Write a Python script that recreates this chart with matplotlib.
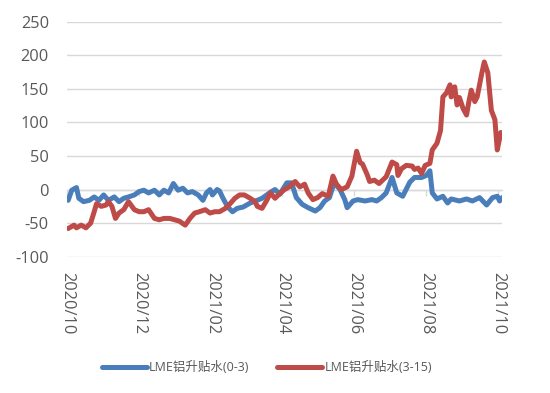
import matplotlib
matplotlib.use("Agg")
import matplotlib.pyplot as plt
import matplotlib.dates as mdates
import pandas as pd

plt.rcParams["axes.unicode_minus"] = False

blue_dates = ["2020-10-02","2020-10-05","2020-10-09","2020-10-11","2020-10-15","2020-10-20","2020-10-24","2020-10-28",
              "2020-11-01","2020-11-05","2020-11-10","2020-11-14","2020-11-18","2020-11-22","2020-11-27","2020-12-01",
              "2020-12-05","2020-12-09","2020-12-14","2020-12-18","2020-12-22","2020-12-26","2020-12-30","2021-01-03",
              "2021-01-07","2021-01-11","2021-01-15","2021-01-20","2021-01-24","2021-01-27","2021-01-30","2021-02-01",
              "2021-02-05","2021-02-07","2021-02-10","2021-02-14","2021-02-18","2021-02-22","2021-02-27","2021-03-05",
              "2021-03-11","2021-03-15","2021-03-19","2021-03-23","2021-03-26","2021-03-30","2021-04-05","2021-04-09",
              "2021-04-13","2021-04-18","2021-04-23","2021-04-29","2021-05-03","2021-05-07","2021-05-11","2021-05-15",
              "2021-05-20","2021-05-24","2021-05-26","2021-05-31","2021-06-04","2021-06-10","2021-06-16","2021-06-20",
              "2021-06-24","2021-06-28","2021-07-03","2021-07-07","2021-07-12","2021-07-18","2021-07-22","2021-07-28",
              "2021-08-01","2021-08-04","2021-08-06","2021-08-10","2021-08-15","2021-08-19","2021-08-22","2021-08-29",
              "2021-09-04","2021-09-09","2021-09-15","2021-09-21","2021-09-26","2021-09-30","2021-10-02","2021-10-04"]
blue_values = [-16, -1, 3, -13, -18, -16, -11, -16,
               -8, -16, -11, -18, -13, -11, -8, -3,
               -1, -5, -1, -8, -1, -5, 9, -1,
               2, -5, -3, -8, -16, -5, 0, -8,
               0, -2, -13, -26, -33, -28, -26, -20,
               -16, -13, -8, -3, 0, -7, 10, 10,
               -12, -22, -27, -32, -27, -17, -12, 10,
               0, -15, -27, -17, -15, -17, -15, -17,
               -12, -5, 18, -5, -10, 11, 18, 18,
               21, 28, -5, -14, -10, -20, -14, -17,
               -14, -17, -12, -23, -12, -10, -17, -12]

red_dates = ["2020-10-02","2020-10-07","2020-10-09","2020-10-13","2020-10-17","2020-10-21","2020-10-24","2020-10-26",
             "2020-10-30","2020-11-03","2020-11-05","2020-11-08","2020-11-11","2020-11-14","2020-11-18","2020-11-22",
             "2020-11-27","2020-12-01","2020-12-05","2020-12-09","2020-12-14","2020-12-18","2020-12-22","2020-12-27",
             "2020-12-31","2021-01-04","2021-01-09","2021-01-13","2021-01-17","2021-01-21","2021-01-26","2021-01-30",
             "2021-02-03","2021-02-07","2021-02-12","2021-02-16","2021-02-20","2021-02-24","2021-02-28","2021-03-05",
             "2021-03-09","2021-03-11","2021-03-15","2021-03-19","2021-03-22","2021-03-26","2021-03-30","2021-04-03",
             "2021-04-07","2021-04-12","2021-04-16","2021-04-20","2021-04-23","2021-04-27","2021-05-01","2021-05-05",
             "2021-05-10","2021-05-14","2021-05-17","2021-05-21","2021-05-26","2021-05-30","2021-06-03","2021-06-06",
             "2021-06-08","2021-06-12","2021-06-14","2021-06-18","2021-06-22","2021-06-28","2021-07-03","2021-07-07",
             "2021-07-08","2021-07-11","2021-07-15","2021-07-20","2021-07-22","2021-07-25","2021-07-28","2021-07-31",
             "2021-08-04","2021-08-06","2021-08-10","2021-08-13","2021-08-15","2021-08-18","2021-08-21","2021-08-22",
             "2021-08-25","2021-08-27","2021-08-29","2021-09-01","2021-09-04","2021-09-06","2021-09-08","2021-09-11",
             "2021-09-13","2021-09-17","2021-09-19","2021-09-22","2021-09-25","2021-09-28","2021-09-30","2021-10-03"]
red_values = [-58, -53, -57, -53, -57, -50, -33, -21,
              -25, -23, -18, -25, -43, -35, -30, -18,
              -30, -33, -33, -30, -43, -45, -43, -43,
              -45, -47, -53, -43, -35, -33, -30, -35,
              -33, -33, -28, -21, -13, -8, -8, -13,
              -18, -25, -28, -16, -5, -13, -6, 0,
              4, 12, 4, 8, -5, -15, -12, -6,
              -10, 20, 8, 0, 4, 20, 57, 40,
              38, 22, 12, 14, 9, 19, 41, 37,
              21, 31, 36, 35, 30, 32, 24, 36,
              39, 59, 69, 88, 138, 144, 156, 138,
              153, 126, 137, 121, 111, 131, 148, 131,
              138, 174, 190, 174, 118, 104, 59, 85]

series_names = ["LME铝升贴水(0-3)", "LME铝升贴水(3-15)"]
y_ticks = [-100, -50, 0, 50, 100, 150, 200, 250]

BLUE = "#4a7ebb"
RED = "#be4b48"
GREY = "#595959"
GRID = "#d9d9d9"

fig = plt.figure(figsize=(5.5, 3.93), dpi=100)
ax = fig.add_axes([67/550, 1-256.7/393, 435/550, (256.7-21.7)/393])

bd = pd.to_datetime(blue_dates)
rd = pd.to_datetime(red_dates)
ax.plot(bd, blue_values, color=BLUE, lw=3.6, solid_joinstyle="round", solid_capstyle="round", label=series_names[0], zorder=3)
ax.plot(rd, red_values, color=RED, lw=3.6, solid_joinstyle="round", solid_capstyle="round", label=series_names[1], zorder=4)

ax.set_ylim(-100, 250)
ax.set_yticks(y_ticks)
ax.set_xlim(pd.Timestamp("2020-10-01"), pd.Timestamp("2021-10-04"))
ax.xaxis.set_major_locator(mdates.MonthLocator(bymonth=[2, 4, 6, 8, 10, 12]))
ax.xaxis.set_major_formatter(mdates.DateFormatter("%Y/%m"))

ax.grid(axis="y", color=GRID, lw=1.0, zorder=0)
ax.set_axisbelow(True)
for s in ["top", "right", "left"]:
    ax.spines[s].set_visible(False)
ax.spines["bottom"].set_position(("data", 0))
ax.spines["bottom"].set_color(GRID)
ax.spines["bottom"].set_linewidth(1.0)

tf = ["Open Sans", "DejaVu Sans"]
ax.tick_params(axis="y", length=0, pad=13, labelsize=11.8, labelcolor=GREY)
ax.tick_params(axis="x", length=4, width=1, color=GRID, direction="out", pad=55, labelsize=11.8, labelcolor=GREY)
for lab in ax.get_yticklabels():
    lab.set_family(tf)
for lab in ax.get_xticklabels():
    lab.set_family(tf)
    lab.set_rotation(270)
    lab.set_ha("center")
    lab.set_va("top")

leg = fig.legend(loc="center", bbox_to_anchor=(0.485, 0.064), ncol=2, frameon=False,
                 handlelength=3.6, columnspacing=2.2, handletextpad=0.2,
                 prop={"family": ["Open Sans", "Noto Sans CJK SC"], "size": 9})
for t in leg.get_texts():
    t.set_color(GREY)
for h in leg.get_lines():
    h.set_linewidth(3.6)

fig.savefig("out.png", dpi=100)
